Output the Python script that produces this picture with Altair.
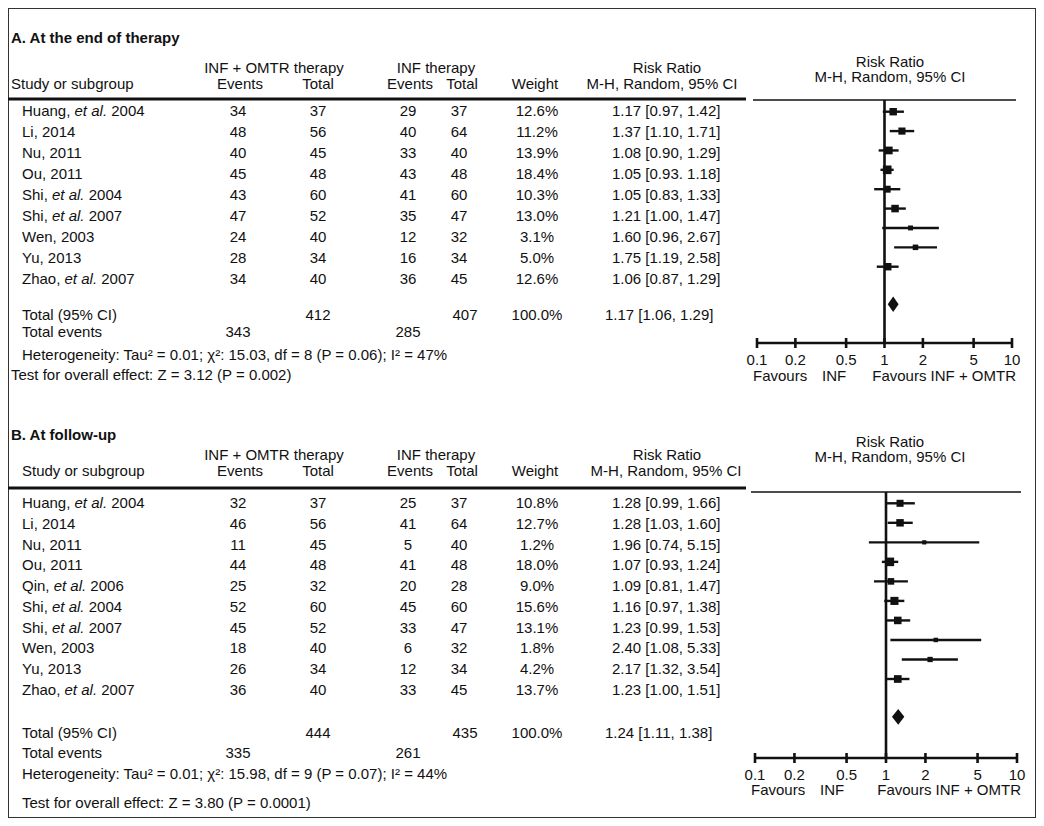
import altair as alt
import pandas as pd

FONT = "Liberation Sans"
FS = 15
INK = "#111111"

# ---------------- data: A. At the end of therapy ----------------
authors_A = ["Huang,", "Li,", "Nu,", "Ou,", "Shi,", "Shi,", "Wen,", "Yu,", "Zhao,"]
etal_A = [True, False, False, False, True, True, False, False, True]
years_A = ["2004", "2014", "2011", "2011", "2004", "2007", "2003", "2013", "2007"]
ev_omtr_A = [34, 48, 40, 45, 43, 47, 24, 28, 34]
tot_omtr_A = [37, 56, 45, 48, 60, 52, 40, 34, 40]
ev_inf_A = [29, 40, 33, 43, 41, 35, 12, 16, 36]
tot_inf_A = [37, 64, 40, 48, 60, 47, 32, 34, 45]
weight_A = [12.6, 11.2, 13.9, 18.4, 10.3, 13.0, 3.1, 5.0, 12.6]
rr_A = [1.17, 1.37, 1.08, 1.05, 1.05, 1.21, 1.60, 1.75, 1.06]
lo_A = [0.97, 1.10, 0.90, 0.93, 0.83, 1.00, 0.96, 1.19, 0.87]
hi_A = [1.42, 1.71, 1.29, 1.18, 1.33, 1.47, 2.67, 2.58, 1.29]
rr_text_A = ["1.17 [0.97, 1.42]", "1.37 [1.10, 1.71]", "1.08 [0.90, 1.29]",
             "1.05 [0.93. 1.18]", "1.05 [0.83, 1.33]", "1.21 [1.00, 1.47]",
             "1.60 [0.96, 2.67]", "1.75 [1.19, 2.58]", "1.06 [0.87, 1.29]"]
total_A = {"n_omtr": "412", "n_inf": "407", "ev_omtr": "343", "ev_inf": "285",
           "weight": "100.0%", "rr": 1.17, "lo": 1.06, "hi": 1.29, "rr_text": "1.17 [1.06, 1.29]",
           "het": "Heterogeneity: Tau\u00b2 = 0.01; \u03c7\u00b2: 15.03, df = 8 (P = 0.06); I\u00b2 = 47%",
           "test": "Test for overall effect: Z = 3.12 (P = 0.002)"}

# ---------------- data: B. At follow-up ----------------
authors_B = ["Huang,", "Li,", "Nu,", "Ou,", "Qin,", "Shi,", "Shi,", "Wen,", "Yu,", "Zhao,"]
etal_B = [True, False, False, False, True, True, True, False, False, True]
years_B = ["2004", "2014", "2011", "2011", "2006", "2004", "2007", "2003", "2013", "2007"]
ev_omtr_B = [32, 46, 11, 44, 25, 52, 45, 18, 26, 36]
tot_omtr_B = [37, 56, 45, 48, 32, 60, 52, 40, 34, 40]
ev_inf_B = [25, 41, 5, 41, 20, 45, 33, 6, 12, 33]
tot_inf_B = [37, 64, 40, 48, 28, 60, 47, 32, 34, 45]
weight_B = [10.8, 12.7, 1.2, 18.0, 9.0, 15.6, 13.1, 1.8, 4.2, 13.7]
rr_B = [1.28, 1.28, 1.96, 1.07, 1.09, 1.16, 1.23, 2.40, 2.17, 1.23]
lo_B = [0.99, 1.03, 0.74, 0.93, 0.81, 0.97, 0.99, 1.08, 1.32, 1.00]
hi_B = [1.66, 1.60, 5.15, 1.24, 1.47, 1.38, 1.53, 5.33, 3.54, 1.51]
rr_text_B = ["1.28 [0.99, 1.66]", "1.28 [1.03, 1.60]", "1.96 [0.74, 5.15]",
             "1.07 [0.93, 1.24]", "1.09 [0.81, 1.47]", "1.16 [0.97, 1.38]",
             "1.23 [0.99, 1.53]", "2.40 [1.08, 5.33]", "2.17 [1.32, 3.54]",
             "1.23 [1.00, 1.51]"]
total_B = {"n_omtr": "444", "n_inf": "435", "ev_omtr": "335", "ev_inf": "261",
           "weight": "100.0%", "rr": 1.24, "lo": 1.11, "hi": 1.38, "rr_text": "1.24 [1.11, 1.38]",
           "het": "Heterogeneity: Tau\u00b2 = 0.01; \u03c7\u00b2: 15.98, df = 9 (P = 0.07); I\u00b2 = 44%",
           "test": "Test for overall effect: Z = 3.80 (P = 0.0001)"}

tick_values = [0.1, 0.2, 0.5, 1, 2, 5, 10]
tick_labels = ["0.1", "0.2", "0.5", "1", "2", "5", "10"]

# ---------------- layout ----------------
# Arial / Liberation Sans advance widths (1/1000 em) for placing the italic "et al."
AW = {" ": 278, ",": 278, ".": 278, "H": 722, "u": 556, "a": 556, "n": 556, "g": 556,
      "L": 556, "i": 222, "N": 722, "O": 778, "S": 667, "h": 556, "W": 944, "e": 556,
      "Y": 667, "Z": 611, "o": 556, "Q": 778, "t": 278, "l": 222}


def tw(s):
    return sum(AW.get(c, 556) for c in s) * FS / 1000.0


X_OUT, X_IN = 3, 14
COL = {"ev_omtr": 230, "tot_omtr": 310, "ev_inf": 400, "tot_inf": 451,
       "weight": 529, "rr": 604, "rr_total": 597, "tot_inf_total": 457}

LAYOUT = {
    "A": dict(text_y=(103, 271), forest_y=(103.7, 258.7), xr=(749, 1004),
              title=("A. At the end of therapy", X_OUT, 30), hdr1=60, hdr2=76, study_x=X_OUT,
              mh_x=654, rule_l=91, rule_r=92, rr_head=(54, 69), total=307, events=324,
              het=347, test=367, test_x=X_OUT, vline=(92, 335), axis=335, labs=352, fav=368),
    "B": dict(text_y=(495, 682), forest_y=(495.3, 671), xr=(747, 1009),
              title=("B. At follow-up", X_OUT, 427), hdr1=447, hdr2=463, study_x=X_IN,
              mh_x=658, rule_l=480, rule_r=484, rr_head=(434, 449), total=725, events=745,
              het=766, test=795, test_x=X_IN, vline=(484, 750), axis=750, labs=767, fav=782),
}

ONE = pd.DataFrame({"k": [0]})


def label(text, x, y, align="left", bold=False, italic=False):
    return alt.Chart(ONE).mark_text(
        text=text, align=align, baseline="middle", font=FONT, fontSize=FS, color=INK,
        fontWeight="bold" if bold else "normal", fontStyle="italic" if italic else "normal"
    ).encode(x=alt.value(x), y=alt.value(y))


def hrule(x1, x2, y, w):
    return alt.Chart(ONE).mark_rule(color=INK, strokeWidth=w).encode(
        x=alt.value(x1), x2=alt.value(x2), y=alt.value(y))


def section(key, authors, etal, years, ev1, n1, ev2, n2, weight, rr, lo, hi, rr_text, tot):
    L = LAYOUT[key]
    n = len(authors)
    rows = list(range(n))
    df = pd.DataFrame({
        "row": rows,
        "pre": [a + ("" if e else " " + y) for a, e, y in zip(authors, etal, years)],
        "etal": etal,
        "year": years,
        "ev1": [str(v) for v in ev1], "n1": [str(v) for v in n1],
        "ev2": [str(v) for v in ev2], "n2": [str(v) for v in n2],
        "wlab": [f"{w:.1f}%" for w in weight], "w": weight,
        "rr": rr, "lo": lo, "hi": hi, "rrt": rr_text,
    })
    df["x_etal"] = [X_IN + tw(a + " ") for a in authors]
    df["x_year"] = df["x_etal"] + tw("et al. ")

    ys_t = alt.Scale(domain=[0, n - 1], range=list(L["text_y"]), zero=False, nice=False)
    ys_f = alt.Scale(domain=[0, n - 1], range=list(L["forest_y"]), zero=False, nice=False)
    xs = alt.Scale(type="log", domain=[0.1, 10], range=list(L["xr"]), nice=False)
    Yt = alt.Y("row:Q", scale=ys_t, axis=None)
    Yf = alt.Y("row:Q", scale=ys_f, axis=None)

    base = alt.Chart(df)
    layers = []

    def col(field, x, align="center"):
        return base.mark_text(align=align, baseline="middle", font=FONT, fontSize=FS,
                              color=INK).encode(x=alt.value(x), y=Yt, text=f"{field}:N")

    # study names (with italic "et al.")
    layers.append(col("pre", X_IN, "left"))
    layers.append(base.transform_filter("datum.etal").mark_text(
        align="left", baseline="middle", font=FONT, fontSize=FS, color=INK, fontStyle="italic"
    ).encode(x=alt.X("x_etal:Q", scale=None, axis=None), y=Yt, text=alt.value("et al.")))
    layers.append(base.transform_filter("datum.etal").mark_text(
        align="left", baseline="middle", font=FONT, fontSize=FS, color=INK
    ).encode(x=alt.X("x_year:Q", scale=None, axis=None), y=Yt, text="year:N"))
    layers += [col("ev1", COL["ev_omtr"]), col("n1", COL["tot_omtr"]),
               col("ev2", COL["ev_inf"]), col("n2", COL["tot_inf"]),
               col("wlab", COL["weight"]), col("rrt", COL["rr"], "left")]

    # headers
    t, tx, ty = L["title"]
    layers.append(label(t, tx, ty, bold=True))
    layers += [label("INF + OMTR therapy", 266, L["hdr1"], "center"),
               label("INF therapy", 428, L["hdr1"], "center"),
               label("Risk  Ratio", 659, L["hdr1"], "center"),
               label("Study  or  subgroup", L["study_x"], L["hdr2"]),
               label("Events", 232, L["hdr2"], "center"),
               label("Total", 310, L["hdr2"], "center"),
               label("Events", 402, L["hdr2"], "center"),
               label("Total", 454, L["hdr2"], "center"),
               label("Weight", 527, L["hdr2"], "center"),
               label("M-H, Random, 95% CI", L["mh_x"], L["hdr2"], "center"),
               label("Risk  Ratio", 882, L["rr_head"][0], "center"),
               label("M-H,  Random,  95%  CI", 882, L["rr_head"][1], "center")]
    layers.append(hrule(0, 738, L["rule_l"], 3))
    layers.append(hrule(L["xr"][0] - 4, L["xr"][1] + 4, L["rule_r"], 1.6))

    # totals
    layers += [label("Total (95% CI)", X_IN, L["total"]),
               label(tot["n_omtr"], COL["tot_omtr"], L["total"], "center"),
               label(tot["n_inf"], COL["tot_inf_total"], L["total"], "center"),
               label(tot["weight"], COL["weight"], L["total"], "center"),
               label(tot["rr_text"], COL["rr_total"], L["total"]),
               label("Total  events", X_IN, L["events"]),
               label(tot["ev_omtr"], COL["ev_omtr"], L["events"], "center"),
               label(tot["ev_inf"], COL["ev_inf"], L["events"], "center"),
               label(tot["het"], X_IN, L["het"]),
               label(tot["test"], L["test_x"], L["test"])]

    # forest: line of no effect
    layers.append(alt.Chart(pd.DataFrame({"v": [1.0]})).mark_rule(color=INK, strokeWidth=2.6).encode(
        x=alt.X("v:Q", scale=xs, axis=None), y=alt.value(L["vline"][0]), y2=alt.value(L["vline"][1])))
    # CI lines and weighted squares
    layers.append(base.mark_rule(color=INK, strokeWidth=2.4).encode(
        x=alt.X("lo:Q", scale=xs, axis=None), x2="hi:Q", y=Yf))
    layers.append(base.mark_square(color=INK, filled=True, opacity=1).encode(
        x=alt.X("rr:Q", scale=xs, axis=None), y=Yf,
        size=alt.Size("w:Q", scale=alt.Scale(domain=[0, 20], range=[14, 80]), legend=None)))
    # pooled diamond
    r = n - 1 + 1.94
    d = 0.40
    dia = pd.DataFrame({"x": [tot["lo"], tot["rr"], tot["hi"]],
                        "yt": [r, r - d, r], "yb": [r, r + d, r]})
    layers.append(alt.Chart(dia).mark_area(color=INK, orient="vertical", opacity=1).encode(
        x=alt.X("x:Q", scale=xs, axis=None),
        y=alt.Y("yt:Q", scale=ys_f, axis=None), y2="yb:Q"))
    # axis
    ax = pd.DataFrame({"a": [tick_values[0]], "b": [tick_values[-1]]})
    layers.append(alt.Chart(ax).mark_rule(color=INK, strokeWidth=2.6).encode(
        x=alt.X("a:Q", scale=xs, axis=None), x2="b:Q", y=alt.value(L["axis"])))
    tk = pd.DataFrame({"t": tick_values, "lab": tick_labels})
    layers.append(alt.Chart(tk).mark_rule(color=INK, strokeWidth=2.6).encode(
        x=alt.X("t:Q", scale=xs, axis=None), y=alt.value(L["axis"] - 5), y2=alt.value(L["axis"] + 5)))
    layers.append(alt.Chart(tk).mark_text(align="center", baseline="middle", font=FONT,
                                          fontSize=FS, color=INK).encode(
        x=alt.X("t:Q", scale=xs, axis=None), y=alt.value(L["labs"]), text="lab:N"))
    layers += [label("Favours", L["xr"][0] - 4, L["fav"]),
               label("INF", L["xr"][0] + 65, L["fav"]),
               label("Favours INF + OMTR", L["xr"][1] + 4, L["fav"], "right")]
    return layers


layers = section("A", authors_A, etal_A, years_A, ev_omtr_A, tot_omtr_A, ev_inf_A, tot_inf_A,
                 weight_A, rr_A, lo_A, hi_A, rr_text_A, total_A)
layers += section("B", authors_B, etal_B, years_B, ev_omtr_B, tot_omtr_B, ev_inf_B, tot_inf_B,
                  weight_B, rr_B, lo_B, hi_B, rr_text_B, total_B)

chart = alt.layer(*layers).resolve_scale(
    x="independent", y="independent", size="independent"
).properties(
    width=1028, height=810, padding=0, background="white",
    autosize=alt.AutoSizeParams(type="none")
).configure_view(stroke="#333333", strokeWidth=2)

chart.save("out.html", embed_options={"renderer": "svg", "actions": False})
